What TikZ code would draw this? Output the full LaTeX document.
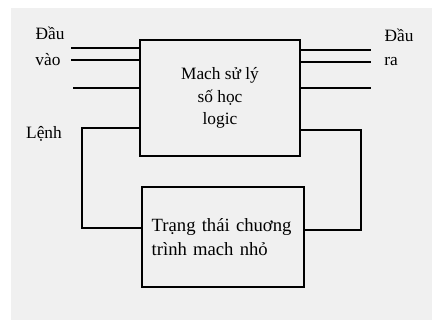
\documentclass[tikz,border=0pt]{standalone}
\usepackage{fontspec}
\setmainfont{Liberation Serif}
\definecolor{paper}{HTML}{F0F0F0}
\begin{document}
\begin{tikzpicture}[x=0.75pt,y=-0.75pt,
    block/.style={rectangle,draw,line width=1.1pt},
    wire/.style={line width=1.1pt},
    lbl/.style={font=\fontsize{13}{17}\selectfont}]
  \useasboundingbox (0,0) rectangle (432,320);
  \fill[paper] (11,8) rectangle (432,320);
  \node[block,lbl,minimum width=120pt,minimum height=87pt,align=center] (alu) at(220,98) {Mach sử lý\\số học\\logic};
  \node[block,font=\fontsize{14}{18.5}\selectfont,minimum width=121.5pt,minimum height=75pt,align=left,text width=107pt] (state) at(223,237) {Trạng thái chuơng\\trình mach nhỏ};
  \node[lbl] (ina) at(50,33) {Đầu};
  \node[lbl] (inb) at(48,60) {vào};
  \node[lbl] (outa) at(399,35) {Đầu};
  \node[lbl] (outb) at(391,62) {ra};
  \node[lbl] (cmd) at(44,134) {Lệnh};
  \coordinate (i1) at(71,48);
  \coordinate (i2) at(71,60);
  \coordinate (i3) at(73,88);
  \coordinate (o1) at(371,50);
  \coordinate (o2) at(371,62);
  \coordinate (o3) at(371,88);
  \coordinate (lc) at(82,128);
  \coordinate (ld) at(82,228);
  \coordinate (rc) at(361,130);
  \coordinate (rd) at(361,230);
  \draw[wire] (i1) -- (alu.west |- i1);
  \draw[wire] (i2) -- (alu.west |- i2);
  \draw[wire] (i3) -- (alu.west |- i3);
  \draw[wire] (alu.east |- o1) -- (o1);
  \draw[wire] (alu.east |- o2) -- (o2);
  \draw[wire] (alu.east |- o3) -- (o3);
  \draw[wire] (alu.west |- lc) -- (lc) -- (ld) -- (state.west |- ld);
  \draw[wire] (alu.east |- rc) -- (rc) -- (rd) -- (state.east |- rd);
\end{tikzpicture}
\end{document}
